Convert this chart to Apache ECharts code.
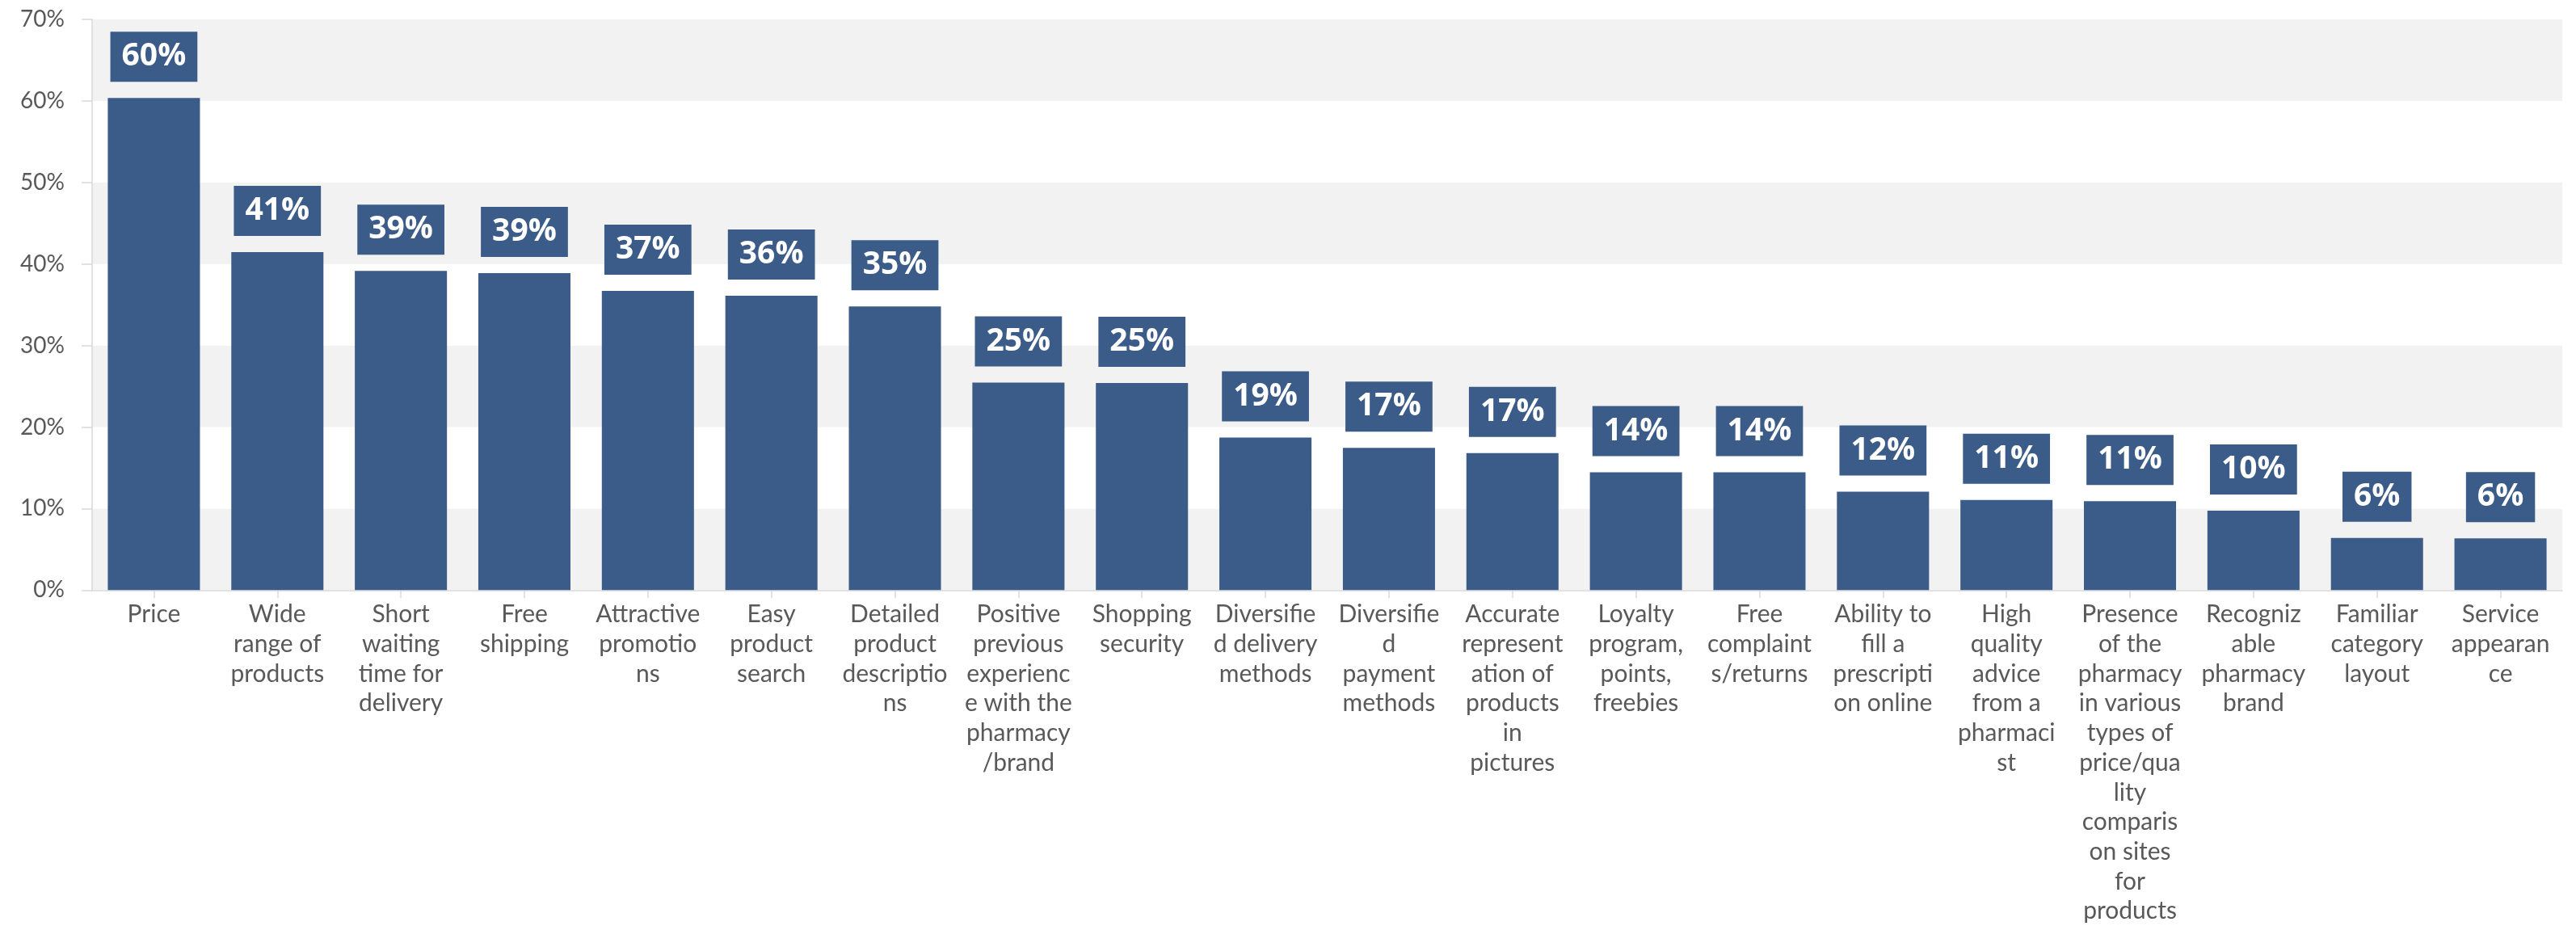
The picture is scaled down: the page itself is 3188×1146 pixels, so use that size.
<!DOCTYPE html>
<html>
<head>
<meta charset="utf-8">
<title>Important factors when choosing an online pharmacy</title>
<script src="https://cdn.jsdelivr.net/npm/echarts@6/dist/echarts.min.js"></script>
<style>
  html, body { margin: 0; padding: 0; background: #ffffff; }
  #chart { width: 3188px; height: 1146px; }
</style>
</head>
<body>
<div id="chart"></div>
<script>
// Category names, wrapped into lines as they appear under each bar
const categories = [
  'Price',
  'Wide\nrange of\nproducts',
  'Short\nwaiting\ntime for\ndelivery',
  'Free\nshipping',
  'Attractive\npromotio\nns',
  'Easy\nproduct\nsearch',
  'Detailed\nproduct\ndescriptio\nns',
  'Positive\nprevious\nexperienc\ne with the\npharmacy\n/brand',
  'Shopping\nsecurity',
  'Diversifie\nd delivery\nmethods',
  'Diversifie\nd\npayment\nmethods',
  'Accurate\nrepresent\nation of\nproducts\nin\npictures',
  'Loyalty\nprogram,\npoints,\nfreebies',
  'Free\ncomplaint\ns/returns',
  'Ability to\nfill a\nprescripti\non online',
  'High\nquality\nadvice\nfrom a\npharmaci\nst',
  'Presence\nof the\npharmacy\nin various\ntypes of\nprice/qua\nlity\ncomparis\non sites\nfor\nproducts',
  'Recogniz\nable\npharmacy\nbrand',
  'Familiar\ncategory\nlayout',
  'Service\nappearan\nce'
];

// Share of respondents, percent
const shares = [
  60.37, 41.45, 39.15, 38.88, 36.7, 36.1, 34.8, 25.45, 25.4, 18.7,
  17.45, 16.8, 14.44, 14.44, 12.06, 11.05, 10.9, 9.74, 6.4, 6.35
];

// Value axis ticks
const yMin = 0;
const yMax = 70;
const yStep = 10;

const barColor = '#3B5B88';
const textGrey = '#595959';
const lineGrey = '#D9D9D9';

const chart = echarts.init(document.getElementById('chart'), null, { renderer: 'canvas' });

chart.setOption({
  animation: false,
  backgroundColor: '#ffffff',
  grid: { left: 114, right: 17, top: 24, bottom: 415, containLabel: false },
  xAxis: {
    type: 'category',
    data: categories,
    axisLine: { show: true, lineStyle: { color: lineGrey, width: 1.5 } },
    axisTick: { show: true, alignWithLabel: true, length: 10, lineStyle: { color: lineGrey, width: 1.5 } },
    axisLabel: {
      interval: 0,
      margin: 12,
      color: textGrey,
      fontFamily: 'Lato, "Open Sans", sans-serif',
      fontSize: 30,
      lineHeight: 36.7,
      align: 'center'
    },
    splitLine: { show: false }
  },
  yAxis: {
    type: 'value',
    min: yMin,
    max: yMax,
    interval: yStep,
    axisLine: { show: true, lineStyle: { color: lineGrey, width: 1.5 } },
    axisTick: { show: true, length: 13, lineStyle: { color: lineGrey, width: 1.5 } },
    axisLabel: {
      margin: 34,
      color: textGrey,
      fontFamily: 'Lato, "Open Sans", sans-serif',
      fontSize: 28,
      formatter: '{value}%'
    },
    splitLine: { show: false },
    splitArea: { show: true, areaStyle: { color: ['#F2F2F2', '#FFFFFF'] } }
  },
  series: [{
    type: 'bar',
    data: shares,
    barWidth: '74.6%',
    itemStyle: { color: barColor },
    label: {
      show: true,
      position: 'top',
      distance: 20,
      formatter: p => Math.round(p.value) + '%',
      color: '#ffffff',
      fontFamily: '"Open Sans", sans-serif',
      fontWeight: 'bold',
      fontSize: 39,
      lineHeight: 40,
      backgroundColor: barColor,
      padding: [11, 14, 11, 14]
    }
  }]
});
</script>
</body>
</html>
